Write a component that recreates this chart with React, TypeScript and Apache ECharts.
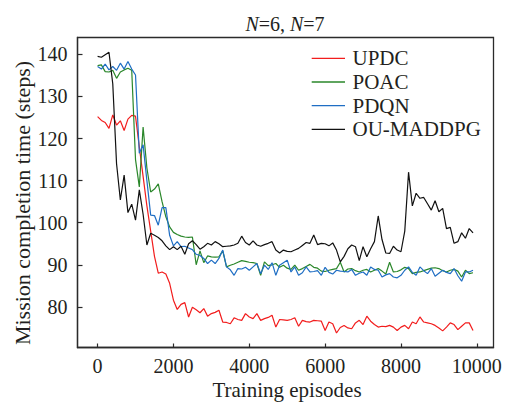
import React, { useEffect, useRef } from "react";
import * as echarts from "echarts";

const EPISODES: number[] = Array.from({ length: 100 }, (_, i) => i * 100);

const UPDC = [
  125.2, 124.3, 123.8, 122.4, 125.6, 123.2, 124.2, 121.9, 124.6, 125.5,
  125.3, 118, 111, 104, 98, 92, 88, 88.3, 87.8, 85.6,
  81.6, 79.4, 80.6, 81, 77.6, 79.9, 79.3, 78.6, 79.6, 77.8,
  78.4, 78.7, 79.2, 76.4, 76.3, 76, 77.4, 77, 76.8, 78.4,
  77.6, 77.2, 78.4, 76.8, 77.2, 77.5, 78, 75.2, 77, 76.9,
  76.8, 77, 77.4, 75.4, 76.8, 76.5, 76.4, 76.8, 76.7, 76.6,
  74.4, 76.4, 76, 73.8, 75.1, 75.6, 75, 74.8, 76.2, 76.8,
  75.8, 77.8, 76.6, 75.8, 75.2, 75.4, 75.3, 75.6, 75.2, 74.4,
  75.2, 75.6, 74.8, 76.4, 76, 77.6, 76.4, 76.2, 76, 75.6,
  75, 74.3, 75.2, 76.2, 75.8, 74.6, 75.4, 76.2, 76.2, 74.4,
];

const POAC = [
  137.3, 137.5, 135.9, 135.8, 136.2, 134.3, 135.8, 136.3, 136.7, 136.2,
  115, 108.5, 122.7, 113, 107.3, 108, 109.2, 105, 101.4, 99,
  97.7, 97.2, 96.8, 96.6, 96.5, 96.6, 90, 93.3, 90.5, 92.1,
  91.9, 91.8, 91.9, 93.3, 89.5, 89.9, 90.2, 90.6, 91, 90.8,
  90.6, 90.5, 90.3, 87.5, 90.7, 89.8, 90, 90.3, 89.4, 89.9,
  89.2, 88.9, 89.9, 88.7, 89.1, 89.6, 90.1, 89.4, 89.2, 88.5,
  88.4, 88.7, 88.9, 89.1, 90.6, 88.3, 89, 89.1, 88.6, 88.3,
  88.7, 88.9, 88.3, 88.7, 89.1, 88.5, 87.8, 90.6, 88.3, 88.4,
  88.8, 89.4, 89.1, 87.9, 88.2, 88.3, 88.6, 88.9, 89.2, 89.3,
  89.1, 88.6, 88.3, 88.7, 88.9, 88.5, 87.1, 88.7, 87.9, 88.1,
];

const PDQN = [
  137.1, 136.5, 137.7, 136.3, 137.1, 136.2, 137.9, 136.5, 138.3, 136.5,
  135.1, 116.5, 118.5, 110, 101.8, 101.7, 99.4, 103.6, 103.6, 97,
  94.5, 95.5, 94.3, 94.4, 94, 93.6, 92.5, 92.2, 91.5, 90.3,
  91.1, 90.3, 91.5, 93.5, 89.5, 88.8, 87.5, 89.1, 89, 89.4,
  88.7, 89.5, 90.3, 87.9, 89.9, 88.9, 90.5, 87.5, 89.9, 90.5,
  91.1, 88.3, 89.5, 87.5, 88.1, 89.5, 88.3, 88.4, 88.6, 87.5,
  89.4, 88.2, 87.8, 88.7, 88.5, 88.4, 88.3, 88.9, 87.5, 88,
  88.3, 87.5, 89.5, 88.9, 88.7, 87.1, 87.6, 87.9, 87.1, 86.9,
  87.5, 88.7, 89.5, 88.2, 87.5, 89.5, 88.6, 87.9, 89.1, 87.3,
  88, 88.7, 88.2, 87.9, 89.1, 87.4, 86.1, 88.3, 88.3, 88.7,
];

const OU_MADDPG = [
  139.5, 139.3, 139.9, 140.5, 133, 114, 105.4, 111.3, 102.4, 104.4,
  100.6, 107.8, 102, 94.7, 97.5, 97, 96.5, 95.7, 94.5, 93.6,
  94.3, 93.6, 94.4, 92.5, 95, 95.7, 94.8, 93.7, 94.3, 95.1,
  94.7, 95.5, 95, 94.3, 94.4, 94.5, 94.7, 95.1, 96.8, 95.3,
  94.7, 95.7, 94.7, 94.4, 94.8, 95.1, 95.5, 93.5, 92.8, 93.5,
  93.2, 93.1, 93.5, 93.9, 94.6, 95.3, 95.1, 97.1, 94.8, 95.1,
  95, 94.5, 95.2, 93.5, 90.7, 92, 93.8, 94.7, 94.3, 91,
  94.3, 91.9, 93.8, 95.5, 101.6, 96, 92.8, 92.7, 94.4, 93.5,
  93.1, 98, 112, 104, 107, 105.8, 106, 104.5, 103, 105.2,
  102.6, 103.4, 98.6, 98.9, 95.1, 95.5, 97.6, 96.3, 98.6, 97.6,
];

const X_TICKS = [0, 2000, 4000, 6000, 8000, 10000];
const Y_TICKS = [80, 90, 100, 110, 120, 130, 140];

const SERIES = [
  { name: "UPDC", data: UPDC, color: "#f21d1d" },
  { name: "POAC", data: POAC, color: "#2a872a" },
  { name: "PDQN", data: PDQN, color: "#1f6ec4" },
  { name: "OU-MADDPG", data: OU_MADDPG, color: "#111111" },
];

const FONT = "'Liberation Serif', 'Times New Roman', serif";
const TXT = "#231f20";
const AXIS = "#2b2b2b";

const W = 506;
const H = 402;
const G_LEFT = 77.5;
const G_RIGHT = 12.5;
const G_TOP = 37.5;
const G_BOTTOM = 54.5;

const LEG_LINE_X0 = 311.7;
const LEG_LINE_X1 = 345;
const LEG_TEXT_X = 352.5;
const LEG_Y0 = 58.3;
const LEG_DY = 23.7;

export default function App() {
  const ref = useRef<HTMLDivElement>(null);
  useEffect(() => {
    if (!ref.current) return;
    const chart = echarts.init(ref.current, null, { renderer: "svg" });
    const legendGraphics: any[] = [];
    SERIES.forEach((s, i) => {
      const y = LEG_Y0 + i * LEG_DY;
      legendGraphics.push({
        type: "line",
        shape: { x1: LEG_LINE_X0, y1: y, x2: LEG_LINE_X1, y2: y },
        style: { stroke: s.color, lineWidth: 1.3 },
        z: 10,
      });
      legendGraphics.push({
        type: "text",
        x: LEG_TEXT_X,
        y: y,
        style: {
          text: s.name,
          fontFamily: FONT,
          fontSize: 21,
          fill: TXT,
          align: "left",
          verticalAlign: "middle",
        },
        z: 10,
      });
    });
    chart.setOption({
      animation: false,
      backgroundColor: "#ffffff",
      grid: {
        left: G_LEFT,
        right: G_RIGHT,
        top: G_TOP,
        bottom: G_BOTTOM,
        show: true,
        borderColor: AXIS,
        borderWidth: 1.3,
        backgroundColor: "rgba(0,0,0,0)",
      },
      xAxis: [
        {
          type: "value",
          position: "bottom",
          min: -530,
          max: 10440,
          axisLine: { show: true, onZero: false, lineStyle: { color: AXIS, width: 1.3 } },
          splitLine: { show: false },
          axisTick: { show: true, inside: true, length: 4, customValues: X_TICKS, lineStyle: { color: AXIS, width: 1.2 } },
          axisLabel: {
            customValues: X_TICKS,
            formatter: (v: number) => String(v),
            fontFamily: FONT,
            fontSize: 20,
            color: TXT,
            margin: 8,
          },
        },
      ],
      yAxis: [
        {
          type: "value",
          position: "left",
          min: 70.35,
          max: 144,
          axisLine: { show: true, onZero: false, lineStyle: { color: AXIS, width: 1.3 } },
          splitLine: { show: false },
          axisTick: { show: true, inside: true, length: 5, customValues: Y_TICKS, lineStyle: { color: AXIS, width: 1.2 } },
          axisLabel: {
            customValues: Y_TICKS,
            formatter: (v: number) => String(v),
            fontFamily: FONT,
            fontSize: 20,
            color: TXT,
            margin: 10,
          },
        },
      ],
      series: SERIES.map((s) => ({
        name: s.name,
        type: "line",
        symbol: "none",
        data: s.data.map((v, i) => [EPISODES[i], v]),
        lineStyle: { color: s.color, width: 1.2 },
        itemStyle: { color: s.color },
      })),
      graphic: [
        ...legendGraphics,
        {
          type: "text",
          x: 285,
          y: 24,
          style: {
            text: "{i|N}=6, {i|N}=7",
            fontFamily: FONT,
            fontSize: 20,
            fill: TXT,
            align: "center",
            verticalAlign: "middle",
            rich: {
              i: { fontFamily: FONT, fontSize: 20, fontStyle: "italic", fill: TXT },
            },
          },
        },
        {
          type: "text",
          x: 287,
          y: 390,
          style: {
            text: "Training episodes",
            fontFamily: FONT,
            fontSize: 21,
            fill: TXT,
            align: "center",
            verticalAlign: "middle",
          },
        },
        {
          type: "text",
          x: 22,
          y: 203,
          rotation: Math.PI / 2,
          style: {
            text: "Mission completion time (steps)",
            fontFamily: FONT,
            fontSize: 22,
            fill: TXT,
            align: "center",
            verticalAlign: "middle",
          },
        },
      ],
    });
    return () => chart.dispose();
  }, []);
  return (
    <div
      ref={ref}
      style={{ position: "fixed", left: 0, top: 0, width: W, height: H, background: "#fff" }}
    />
  );
}
